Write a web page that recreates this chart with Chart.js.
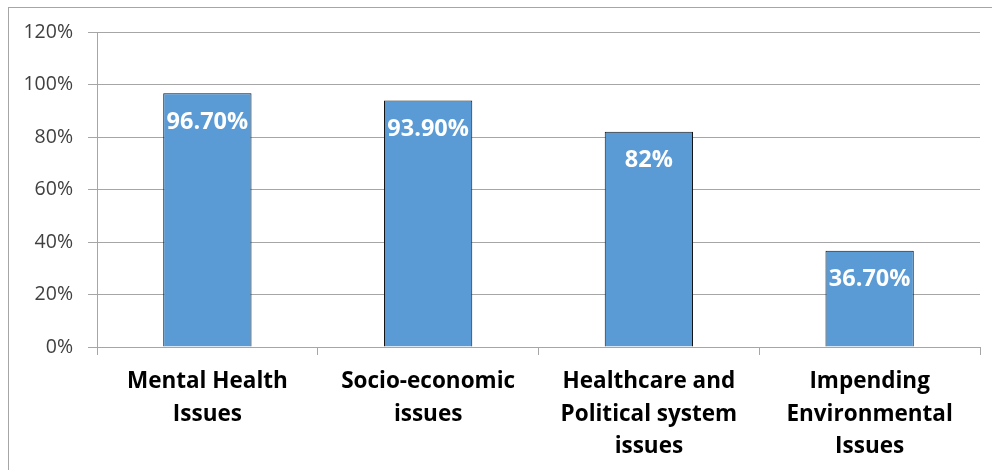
<!DOCTYPE html>
<html>
<head>
<meta charset="utf-8">
<script src="https://cdn.jsdelivr.net/npm/chart.js@4.4.0/dist/chart.umd.min.js"></script>
<style>
body { margin: 0; background: #fff; overflow: hidden; }
#frame { position: absolute; left: 8px; top: 7px; width: 990px; height: 470px; border-left: 1px solid #a6a6a6; border-top: 1px solid #a6a6a6; }
#myChart { position: absolute; left: 0; top: 0; }
</style>
</head>
<body>
<div id="frame"></div>
<canvas id="myChart" width="992" height="470"></canvas>
<script>
var categories = [
    ['Mental Health', 'Issues'],
    ['Socio-economic', 'issues'],
    ['Healthcare and', 'Political system', 'issues'],
    ['Impending', 'Environmental', 'Issues']
];
var values = [96.7, 93.9, 82, 36.7];
var valueLabels = ['96.70%', '93.90%', '82%', '36.70%'];

// white value labels near the top of each bar
var barLabels = {
    id: 'barLabels',
    afterDatasetsDraw: function(chart) {
        var ctx = chart.ctx;
        var meta = chart.getDatasetMeta(0);
        ctx.save();
        ctx.fillStyle = '#fff';
        ctx.font = 'bold 23.5px "Open Sans"';
        ctx.textAlign = 'center';
        ctx.textBaseline = 'middle';
        meta.data.forEach(function(bar, i) {
            ctx.fillText(valueLabels[i], bar.x, bar.y + 29);
        });
        ctx.restore();
    }
};

var ctx = document.getElementById('myChart').getContext('2d');
var chart = new Chart(ctx, {
    type: 'bar',
    data: {
        labels: categories,
        datasets: [{
            data: values,
            backgroundColor: '#5b9bd5',
            borderColor: '#111',
            borderWidth: 1,
            barPercentage: 0.4,
            categoryPercentage: 1
        }]
    },
    options: {
        responsive: false,
        animation: false,
        layout: { padding: { left: 0, top: 32, right: 12, bottom: 0 } },
        plugins: { legend: { display: false }, tooltip: { enabled: false } },
        scales: {
            y: {
                min: 0, max: 120,
                ticks: {
                    stepSize: 20,
                    padding: 15,
                    color: '#404040',
                    font: { family: 'Open Sans', size: 19.5 },
                    callback: function(v) { return v + '%'; }
                },
                grid: { color: '#a6a6a6', tickLength: 9 },
                border: { color: '#a6a6a6' },
                afterFit: function(s) { s.width = 97; }
            },
            x: {
                ticks: {
                    padding: 11,
                    color: '#000',
                    font: { family: 'Open Sans', size: 22.5, weight: 'bold', lineHeight: 1.43 }
                },
                grid: { drawOnChartArea: false, color: '#a6a6a6', tickLength: 8 },
                border: { color: '#a6a6a6' },
                afterFit: function(s) { s.height = 123; }
            }
        }
    },
    plugins: [barLabels]
});
</script>
</body>
</html>
